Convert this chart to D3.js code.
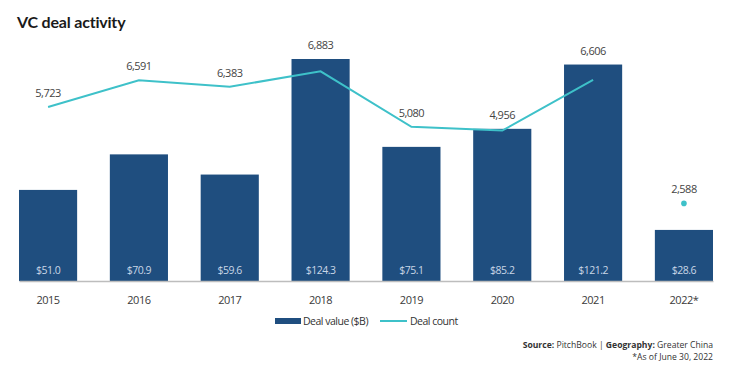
<!DOCTYPE html>
<html>
<head>
<meta charset="utf-8">
<script src="https://cdn.jsdelivr.net/npm/d3@7"></script>
<style>
body { margin: 0; background: #fff; }
text { font-family: "Open Sans", sans-serif; letter-spacing: -0.5px; }
</style>
</head>
<body>
<script>
var years = ["2015", "2016", "2017", "2018", "2019", "2020", "2021", "2022*"];
var dealValue = [51.0, 70.9, 59.6, 124.3, 75.1, 85.2, 121.2, 28.6];
var dealCount = [5723, 6591, 6383, 6883, 5080, 4956, 6606, 2588];
var valueLabels = ["$51.0", "$70.9", "$59.6", "$124.3", "$75.1", "$85.2", "$121.2", "$28.6"];

var BAR_COLOR = "#1f4e7f";
var LINE_COLOR = "#3ec1c9";

var width = 750, height = 378;
var baseY = 281;

var data = years.map(function(y, i) {
    return {year: y, value: dealValue[i], count: dealCount[i], label: valueLabels[i]};
});

var svg = d3.select("body").append("svg")
    .attr("width", width)
    .attr("height", height);

// title
svg.append("text")
    .attr("x", 17).attr("y", 28)
    .style("font-family", "Lato, 'Open Sans', sans-serif")
    .style("font-weight", "bold")
    .style("font-size", "16px")
    .style("letter-spacing", "-0.2px")
    .style("fill", "#1a1a1a")
    .text("VC deal activity");

var x = d3.scaleBand()
    .domain(years)
    .range([19, 713])
    .paddingInner(0.36)
    .paddingOuter(0);

var yValue = d3.scaleLinear().domain([0, 124.3]).range([baseY, 59]);
var yCount = d3.scaleLinear().domain([0, 8000]).range([283, 37]);

// bars
svg.selectAll("rect.bar")
    .data(data)
    .enter()
    .append("rect")
    .attr("class", "bar")
    .attr("x", d => x(d.year))
    .attr("y", d => yValue(d.value))
    .attr("width", x.bandwidth())
    .attr("height", d => baseY - yValue(d.value))
    .style("fill", BAR_COLOR);

// value labels inside bars
svg.selectAll("text.vlabel")
    .data(data)
    .enter()
    .append("text")
    .attr("class", "vlabel")
    .attr("x", d => x(d.year) + x.bandwidth() / 2)
    .attr("y", 274)
    .attr("text-anchor", "middle")
    .style("font-size", "10.5px")
    .style("fill", "#c9d6e6")
    .text(d => d.label);

// baseline axis
var xAxis = d3.axisBottom(x).tickSize(0).tickPadding(15);
var gx = svg.append("g")
    .attr("transform", "translate(0," + baseY + ")")
    .call(xAxis);
gx.select(".domain").attr("stroke", "#bdbdbd").attr("stroke-width", 1.5);
gx.selectAll("text")
    .style("font-size", "11px")
    .style("fill", "#3a3a3a")
    .style("font-family", "'Open Sans', sans-serif");

// deal count line (2015-2021), 2022 shown as a point
var lineData = data.slice(0, 7);
var line = d3.line()
    .x(d => x(d.year) + x.bandwidth() / 2)
    .y(d => yCount(d.count));

svg.append("path")
    .datum(lineData)
    .attr("d", line)
    .style("fill", "none")
    .style("stroke", LINE_COLOR)
    .style("stroke-width", 2);

svg.append("circle")
    .datum(data[7])
    .attr("cx", d => x(d.year) + x.bandwidth() / 2)
    .attr("cy", d => yCount(d.count))
    .attr("r", 2.8)
    .style("fill", LINE_COLOR);

// count labels
svg.selectAll("text.clabel")
    .data(data)
    .enter()
    .append("text")
    .attr("class", "clabel")
    .attr("x", d => x(d.year) + x.bandwidth() / 2)
    .attr("y", d => Math.min(yCount(d.count), yValue(d.value)) - 10)
    .attr("text-anchor", "middle")
    .style("font-size", "11px")
    .style("fill", "#444")
    .text(d => d3.format(",")(d.count));

// legend
var legend = svg.append("g");
legend.append("rect")
    .attr("x", 275).attr("y", 318)
    .attr("width", 26).attr("height", 6)
    .style("fill", BAR_COLOR);
legend.append("text")
    .attr("x", 303).attr("y", 325)
    .style("font-size", "10.5px")
    .style("fill", "#333")
    .text("Deal value ($B)");
legend.append("line")
    .attr("x1", 380).attr("x2", 407)
    .attr("y1", 321).attr("y2", 321)
    .style("stroke", LINE_COLOR)
    .style("stroke-width", 2);
legend.append("text")
    .attr("x", 410).attr("y", 325)
    .style("font-size", "10.5px")
    .style("fill", "#333")
    .text("Deal count");

// source notes
var src = svg.append("text")
    .attr("x", 713).attr("y", 348)
    .attr("text-anchor", "end")
    .style("font-size", "8.6px")
    .style("letter-spacing", "0px")
    .style("fill", "#333");
src.append("tspan").style("font-weight", "bold").text("Source: ");
src.append("tspan").text("PitchBook  |  ");
src.append("tspan").style("font-weight", "bold").text("Geography: ");
src.append("tspan").text("Greater China");

svg.append("text")
    .attr("x", 713).attr("y", 360)
    .attr("text-anchor", "end")
    .style("font-size", "8.6px")
    .style("letter-spacing", "0px")
    .style("fill", "#333")
    .text("*As of June 30, 2022");
</script>
</body>
</html>
